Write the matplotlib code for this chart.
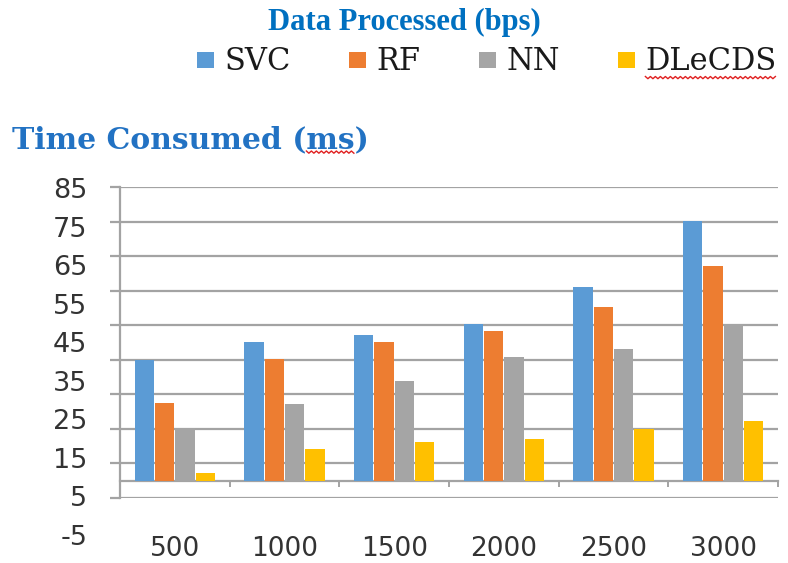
import numpy as np
import matplotlib
matplotlib.use('Agg')
import matplotlib.pyplot as plt
from matplotlib.patches import Patch
from matplotlib.lines import Line2D

plt.rcParams['axes.unicode_minus'] = False

# Time consumed (ms) per amount of data processed (bps)
categories = ['500', '1000', '1500', '2000', '2500', '3000']
svc = [35.0, 40.1, 42.3, 45.3, 56.0, 75.3]
rf = [22.6, 35.1, 40.1, 43.2, 50.2, 62.1]
nn = [15.3, 22.2, 29.0, 35.9, 38.0, 45.3]
dlecds = [2.3, 9.2, 11.1, 12.1, 15.0, 17.2]
series_names = ['SVC', 'RF', 'NN', 'DLeCDS']
y_ticks = [-5, 5, 15, 25, 35, 45, 55, 65, 75, 85]

colors = ['#5B9BD5', '#ED7D31', '#A5A5A5', '#FFC000']
grid_color = '#a3a3a3'
text_color = '#333333'

W, H = 788, 563
fig = plt.figure(figsize=(W / 100, H / 100), dpi=100)

# main plotting area
L, R = 120 / W, 778 / W
ax = fig.add_axes([L, 1 - 498 / H, R - L, (498 - 187) / H])
x = np.arange(len(categories))
step, width = 0.185, 0.175
for k, (vals, c) in enumerate(zip([svc, rf, nn, dlecds], colors)):
    ax.bar(x + (k - 1.5) * step, vals, width, color=c, zorder=3,
           label=series_names[k])

ax.set_xlim(-0.5, len(categories) - 0.5)
ax.set_ylim(y_ticks[0], y_ticks[-1])
ax.set_yticks(y_ticks)
ax.set_yticklabels([])
ax.yaxis.grid(True, color=grid_color, lw=1.6, zorder=0)
ax.tick_params(axis='y', length=7, width=1.6, color=grid_color)
for s in ['top', 'right']:
    ax.spines[s].set_visible(False)
ax.spines['left'].set_color(grid_color)
ax.spines['left'].set_linewidth(1.6)
ax.spines['bottom'].set_position(('data', 0))
ax.spines['bottom'].set_color(grid_color)
ax.spines['bottom'].set_linewidth(1.6)

# category boundaries as major ticks, category names as minor tick labels
ax.set_xticks(np.arange(-0.5, len(categories)))
ax.set_xticklabels([])
ax.tick_params(axis='x', which='major', length=4, width=1.4,
               color=grid_color, direction='out')
ax.set_xticks(x, minor=True)
ax.set_xticklabels(categories, minor=True)
ax.tick_params(axis='x', which='minor', length=0, pad=40, labelsize=19,
               labelcolor=text_color)

# value labels for the y axis
lab = fig.add_axes([L, 1 - 535 / H, R - L, (535 - 188) / H], zorder=-1)
lab.set_ylim(y_ticks[0], y_ticks[-1])
lab.set_yticks(y_ticks)
lab.set_xticks([])
lab.tick_params(axis='y', length=0, pad=23.5, labelsize=19.5,
                labelcolor=text_color)
for s in lab.spines.values():
    s.set_visible(False)
lab.patch.set_visible(False)

# titles
fig.text(404 / W, 1 - 30 / H, 'Data Processed (bps)', ha='center',
         va='baseline', family='Liberation Serif', weight='bold', size=22,
         color='#0070C0')
ytitle_kw = dict(family='DejaVu Serif', weight='bold', size=21.5,
                 color='#2272c3', va='baseline', ha='left')
ytitle_pos = (12 / W, 1 - 148 / H)
ytitle = fig.text(*ytitle_pos, 'Time Consumed (ms)', **ytitle_kw)

# legend
handles = [Patch(facecolor=c, edgecolor='none') for c in colors]
leg = fig.legend(handles, series_names, loc='center',
                 bbox_to_anchor=(487 / W, 1 - 62 / H), ncol=4, frameon=False,
                 prop=dict(family='DejaVu Serif', size=22),
                 handlelength=0.55, handleheight=0.42, handletextpad=0.35,
                 columnspacing=1.9, labelcolor='#1a1a1a',
                 borderpad=0, borderaxespad=0)

# spell-check style wavy underlines
fig.canvas.draw()
renderer = fig.canvas.get_renderer()
inv = fig.transFigure.inverted()


def squiggle(x0, x1, y):
    xs = np.arange(x0, x1 + 0.1, 2.5)
    ys = y + np.where(np.arange(len(xs)) % 2 == 0, 0, -2.2)
    pts = inv.transform(np.column_stack([xs, ys]))
    fig.add_artist(Line2D(pts[:, 0], pts[:, 1], color='#e02020', lw=1.0,
                          transform=fig.transFigure))


bb = leg.get_texts()[3].get_window_extent(renderer)
squiggle(bb.x0, bb.x1, bb.y0 + 1)

tmp = fig.text(*ytitle_pos, 'Time Consumed (', **ytitle_kw)
pre = tmp.get_window_extent(renderer)
tmp.remove()
tmp = fig.text(*ytitle_pos, 'Time Consumed (ms', **ytitle_kw)
upto = tmp.get_window_extent(renderer)
tmp.remove()
ybb = ytitle.get_window_extent(renderer)
squiggle(pre.x1, upto.x1, ybb.y0 + 3)

fig.savefig('out.png', dpi=100)
